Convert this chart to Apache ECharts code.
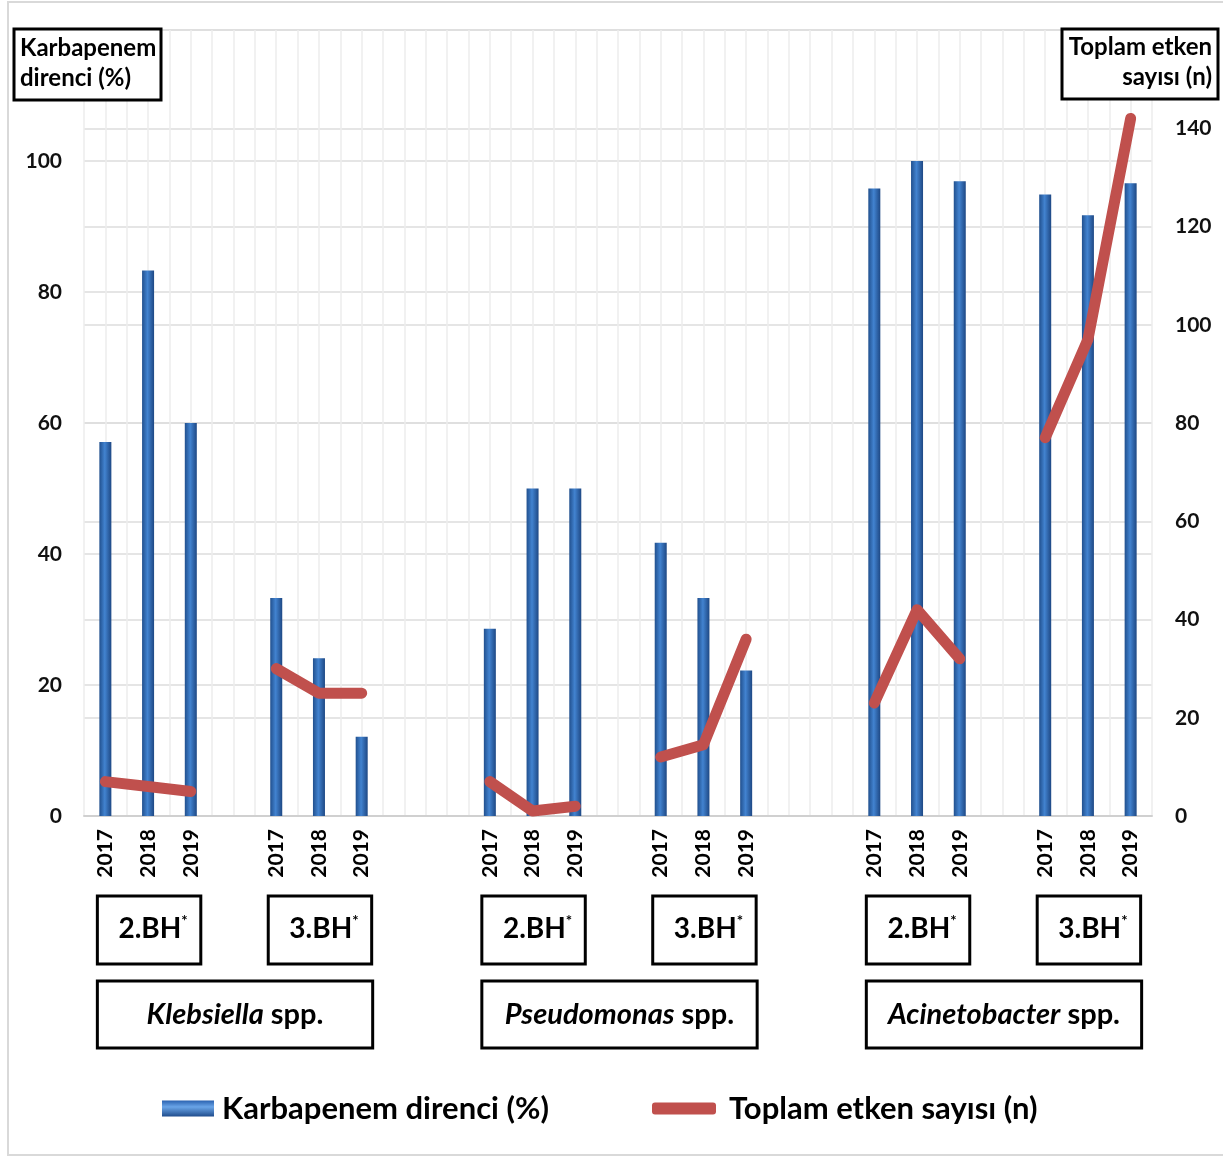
<!DOCTYPE html>
<html><head><meta charset="utf-8">
<script src="https://cdn.jsdelivr.net/npm/echarts@6/dist/echarts.min.js"></script>
<style>html,body{margin:0;padding:0;background:#fff}#c{width:1223px;height:1157px}</style>
</head><body><div id="c"></div>
<script>
// ---- data ----
const species = ['Klebsiella', 'Pseudomonas', 'Acinetobacter'];
const periods = ['2.BH', '3.BH'];
const years = ['2017', '2018', '2019'];
// Karbapenem direnci (%) per group (species x period), per year
const resistance = [
  [57.1, 83.3, 60.0],
  [33.3, 24.1, 12.1],
  [28.6, 50.0, 50.0],
  [41.7, 33.3, 22.2],
  [95.8, 100.0, 96.9],
  [94.9, 91.7, 96.6]
];
// Toplam etken sayısı (n) per group, per year
const totalCount = [
  [7, 6, 5],
  [30, 25, 25],
  [7, 1, 2],
  [12, 14.5, 36],
  [23, 42, 32],
  [77, 97, 142]
];
// empty category slots after each group (layout of the category axis)
const gapSlots = [1, 2, 1, 2, 1];
const leftAxis = { min: 0, max: 120, interval: 20 };
const rightAxis = { min: 0, max: 160, interval: 20 };
const barName = 'Karbapenem direnci (%)';
const lineName = 'Toplam etken sayısı (n)';

// ---- build category slots ----
const categories = [], barData = [], lineData = [], groupStart = [];
resistance.forEach((g, gi) => {
  groupStart.push(categories.length);
  years.forEach((y, yi) => {
    categories.push(y);
    barData.push(g[yi]);
    lineData.push(totalCount[gi][yi]);
  });
  if (gi < gapSlots.length) {
    for (let k = 0; k < gapSlots[gi]; k++) { categories.push(''); barData.push(null); lineData.push(null); }
  }
});
const halfSlots = Array(categories.length * 2).fill('');

const FONT = 'Lato';
const chart = echarts.init(document.getElementById('c'));
const barGrad = new echarts.graphic.LinearGradient(0, 0, 1, 0, [
  { offset: 0, color: '#21508e' },
  { offset: 0.45, color: '#4283d0' },
  { offset: 1, color: '#1e4884' }
]);
const legendGrad = new echarts.graphic.LinearGradient(0, 0, 0, 1, [
  { offset: 0, color: '#2a62b0' },
  { offset: 0.4, color: '#6aa5e8' },
  { offset: 1, color: '#1f4c8c' }
]);
const legendText = { fontFamily: FONT, fontWeight: 'bold', fontSize: 31, color: '#000' };

chart.setOption({
  backgroundColor: '#fff',
  animation: false,
  grid: { left: 84, right: 71, top: 30, bottom: 341, containLabel: false },
  legend: [
    { data: [{ name: barName, icon: 'rect', itemStyle: { color: legendGrad } }], left: 157, top: 1088, itemWidth: 52, itemHeight: 16,
      textStyle: Object.assign({ padding: [0, 0, 0, 3] }, legendText) },
    { data: [{ name: lineName, icon: 'roundRect' }], left: 647, top: 1088, itemWidth: 64, itemHeight: 12,
      textStyle: Object.assign({ padding: [0, 0, 0, 8] }, legendText) }
  ],
  xAxis: [
    { type: 'category', data: categories, boundaryGap: true,
      axisLine: { show: true, lineStyle: { color: '#d0d0d0', width: 2 } },
      axisTick: { show: false },
      axisLabel: { interval: 0, rotate: 90, margin: 13, fontFamily: FONT, fontWeight: 'bold', fontSize: 21, color: '#000' },
      splitLine: { show: false } },
    { type: 'category', data: halfSlots, position: 'bottom', boundaryGap: true,
      axisLine: { show: false }, axisTick: { show: false }, axisLabel: { show: false },
      splitLine: { show: true, interval: 0, lineStyle: { color: '#ececec', width: 1.5 } } }
  ],
  yAxis: [
    { type: 'value', min: leftAxis.min, max: leftAxis.max, interval: leftAxis.interval, position: 'left',
      axisLine: { show: false }, axisTick: { show: false },
      axisLabel: { showMaxLabel: false, margin: 22, fontFamily: FONT, fontWeight: 'bold', fontSize: 21, color: '#111' },
      splitLine: { show: true, lineStyle: { color: '#dcdcdc', width: 1.5 } } },
    { type: 'value', min: rightAxis.min, max: rightAxis.max, interval: rightAxis.interval, position: 'right',
      axisLine: { show: false }, axisTick: { show: false },
      axisLabel: { showMaxLabel: false, margin: 23, fontFamily: FONT, fontWeight: 'bold', fontSize: 21, color: '#111' },
      splitLine: { show: true, lineStyle: { color: '#dcdcdc', width: 1.5 } } }
  ],
  series: [
    { name: barName, type: 'bar', data: barData, xAxisIndex: 0, yAxisIndex: 0, barWidth: 12,
      itemStyle: { color: barGrad, shadowColor: 'rgba(0,0,0,0.25)', shadowBlur: 3 }, z: 2 },
    { name: lineName, type: 'line', data: lineData, xAxisIndex: 0, yAxisIndex: 1, connectNulls: false,
      showSymbol: false, symbol: 'none', color: '#c0504d',
      itemStyle: { color: '#c0504d' },
      lineStyle: { color: '#c0504d', width: 11, cap: 'round', join: 'round' }, z: 3 }
  ]
});

// ---- annotation boxes under the axis, positioned from the axis scale ----
const px = i => chart.convertToPixel({ xAxisIndex: 0 }, i);
const graphics = [];
graphics.push({ type: 'rect', shape: { x: 8, y: 2, width: 1240, height: 1153 }, style: { fill: 'none', stroke: '#d9d9d9', lineWidth: 2 }, silent: true, z: 0 });
function box(x1, y1, x2, y2, textStyle) {
  graphics.push({ type: 'rect', shape: { x: x1, y: y1, width: x2 - x1, height: y2 - y1 },
    style: { fill: '#fff', stroke: '#000', lineWidth: 3 }, z: 100 });
  graphics.push(Object.assign({ type: 'text', z: 101 }, textStyle));
}
groupStart.forEach((s, gi) => {
  const x1 = px(s) - 8, x2 = px(s + 2) + 10;
  box(x1, 896, x2, 964, { x: (x1 + x2) / 2 + 4, y: 929, style: {
    text: '{a|' + periods[gi % 2] + '}{s|*}', align: 'center', verticalAlign: 'middle',
    rich: { a: { fontFamily: FONT, fontWeight: 'bold', fontSize: 28, fill: '#000' },
            s: { fontFamily: FONT, fontWeight: 'bold', fontSize: 15, fill: '#000', padding: [0, 0, 16, 0] } } } });
});
species.forEach((sp, si) => {
  const a = groupStart[si * 2], b = groupStart[si * 2 + 1] + 2;
  const x1 = px(a) - 8, x2 = px(b) + 11;
  box(x1, 981, x2, 1048, { x: (x1 + x2) / 2, y: 1015, style: {
    text: '{i|' + sp + '}{n| spp.}', align: 'center', verticalAlign: 'middle',
    rich: { i: { fontFamily: FONT, fontWeight: 'bold', fontStyle: 'italic', fontSize: 29, fill: '#000' },
            n: { fontFamily: FONT, fontWeight: 'bold', fontSize: 29, fill: '#000' } } } });
});
box(14, 29, 161, 100, { x: 20, y: 63, style: { text: 'Karbapenem\ndirenci (%)', align: 'left', verticalAlign: 'middle',
  font: 'bold 24px ' + FONT, lineHeight: 30, fill: '#000' } });
box(1062, 29, 1218, 99, { x: 1212, y: 62, style: { text: 'Toplam etken\nsayısı (n)', align: 'right', verticalAlign: 'middle',
  font: 'bold 24px ' + FONT, lineHeight: 30, fill: '#000' } });
chart.setOption({ graphic: graphics });
</script></body></html>
